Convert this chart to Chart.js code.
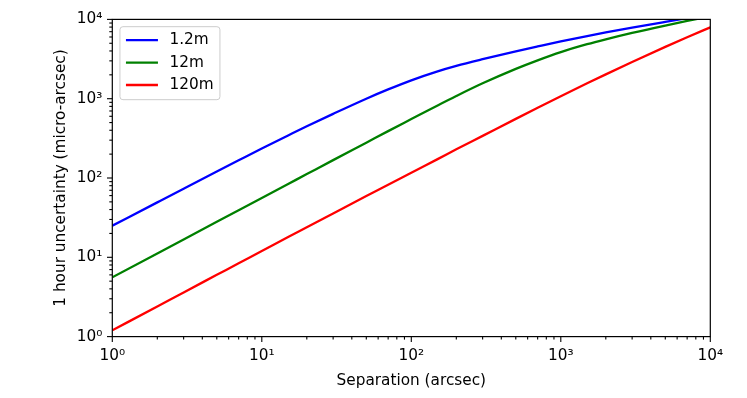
<!DOCTYPE html>
<html>
<head>
<meta charset="utf-8">
<script src="https://cdn.jsdelivr.net/npm/chart.js@4.4.0/dist/chart.umd.min.js"></script>
<style>
  html, body { margin: 0; padding: 0; background: #fff; }
</style>
</head>
<body>
<canvas id="chartSep" width="747" height="398"></canvas>
<script>
// Data
const separation = [1, 2, 3, 5, 7, 10, 15, 20, 30, 50, 70, 100, 150, 200, 300, 500, 700, 1000, 1500, 2000, 3000, 5000, 7000, 10000];
const unc1p2m = [25, 49.3, 73.3, 120.6, 167, 235.5, 344, 449, 644, 1000, 1309, 1706, 2213, 2594, 3148, 3954, 4560, 5284, 6166, 6839, 7870, 9311, 10375, 11590];
const unc12m = [5.6, 11.2, 16.8, 28, 39.2, 56, 84, 112, 168, 279, 390, 553, 822, 1081, 1563, 2377, 3048, 3873, 4864, 5610, 6761, 8375, 9550, 10890];
const unc120m = [1.2, 2.4, 3.61, 6.01, 8.41, 12.0, 18.0, 23.9, 35.7, 59.2, 82.2, 116.7, 173, 230, 340, 557, 767, 1074, 1563, 2028, 2904, 4508, 5957, 7925];
const seriesLabels = ['1.2m', '12m', '120m'];
const seriesColors = ['#0000ff', '#008000', '#ff0000'];
const decadeLabels = ['10\u2070', '10\u00b9', '10\u00b2', '10\u00b3', '10\u2074'];

const FONT = 'DejaVu Sans';
const FS = 15.3;

const isDecade = v => Math.abs(Math.log10(v) - Math.round(Math.log10(v))) < 1e-9;
const decadeLabel = v => isDecade(v) ? decadeLabels[Math.round(Math.log10(v))] : '';

// tick 1..9 per dekade, sampai 10^(jumlah label - 1)
const logTicks = [];
for (let d = 0; d < decadeLabels.length - 1; d++) {
  for (let m = 1; m <= 9; m++) logTicks.push(m * Math.pow(10, d));
}
logTicks.push(Math.pow(10, decadeLabels.length - 1));

const toPoints = ys => separation.map((s, i) => ({ x: s, y: ys[i] }));
const allSeries = [unc1p2m, unc12m, unc120m];

// bingkai + tick gaya matplotlib
const mplFrame = {
  id: 'mplFrame',
  afterDatasetsDraw(chart) {
    const { ctx, chartArea: a, scales } = chart;
    ctx.save();
    ctx.strokeStyle = '#000';
    ctx.lineWidth = 1.1;
    scales.x.ticks.forEach(t => {
      const px = scales.x.getPixelForValue(t.value);
      const len = isDecade(t.value) ? 5.3 : 3;
      ctx.beginPath(); ctx.moveTo(px, a.bottom); ctx.lineTo(px, a.bottom + len); ctx.stroke();
    });
    scales.y.ticks.forEach(t => {
      const py = scales.y.getPixelForValue(t.value);
      const len = isDecade(t.value) ? 5.3 : 3;
      ctx.beginPath(); ctx.moveTo(a.left, py); ctx.lineTo(a.left - len, py); ctx.stroke();
    });
    ctx.lineWidth = 1.2;
    ctx.strokeRect(a.left, a.top, a.right - a.left, a.bottom - a.top);

    // legenda di kiri atas
    const bx = a.left + 7.65, by = a.top + 7.3, bw = 100, bh = 73;
    ctx.beginPath();
    ctx.roundRect(bx, by, bw, bh, 3);
    ctx.fillStyle = 'rgba(255,255,255,0.8)';
    ctx.fill();
    ctx.strokeStyle = '#cccccc';
    ctx.lineWidth = 1;
    ctx.stroke();
    ctx.font = `${FS}px "${FONT}"`;
    ctx.textBaseline = 'middle';
    ctx.fillStyle = '#000';
    chart.data.datasets.forEach((ds, i) => {
      const y = by + 13.5 + i * 22.4;
      ctx.strokeStyle = ds.borderColor;
      ctx.lineWidth = 2.3;
      ctx.beginPath(); ctx.moveTo(bx + 6, y); ctx.lineTo(bx + 38, y); ctx.stroke();
      ctx.fillText(ds.label, bx + 49.5, y);
    });
    ctx.restore();
  }
};

new Chart(document.getElementById('chartSep'), {
  type: 'line',
  data: {
    datasets: allSeries.map((ys, i) => ({
      label: seriesLabels[i],
      data: toPoints(ys),
      borderColor: seriesColors[i],
      backgroundColor: seriesColors[i],
      borderWidth: 2.3,
      pointRadius: 0,
      cubicInterpolationMode: 'monotone',
      fill: false
    }))
  },
  options: {
    responsive: false,
    animation: false,
    devicePixelRatio: 1,
    layout: { padding: { left: 0, right: 36.7, top: 19.4, bottom: 0 } },
    plugins: {
      legend: { display: false },
      tooltip: { enabled: false }
    },
    scales: {
      x: {
        type: 'logarithmic',
        min: 1,
        max: 10000,
        afterBuildTicks: s => { s.ticks = logTicks.map(v => ({ value: v })); },
        afterFit: s => { s.height = 398 - 336.6; },
        grid: { display: true, drawOnChartArea: false, drawTicks: false },
        border: { display: false },
        ticks: {
          autoSkip: false, maxRotation: 0, padding: 10,
          color: '#000', font: { family: FONT, size: FS },
          callback: v => decadeLabel(v)
        },
        title: {
          display: true, text: 'Separation (arcsec)', color: '#000',
          font: { family: FONT, size: FS }, padding: { top: 0, bottom: 8 }
        }
      },
      y: {
        type: 'logarithmic',
        min: 1,
        max: 10000,
        afterBuildTicks: s => { s.ticks = logTicks.map(v => ({ value: v })); },
        afterFit: s => { s.width = 112.3; },
        grid: { display: true, drawOnChartArea: false, drawTicks: false },
        border: { display: false },
        ticks: {
          autoSkip: false, padding: 10,
          color: '#000', font: { family: FONT, size: FS },
          callback: v => decadeLabel(v)
        },
        title: {
          display: true, text: '1 hour uncertainty (micro-arcsec)', color: '#000',
          font: { family: FONT, size: FS }, padding: { top: 52, bottom: 0 }
        }
      }
    }
  },
  plugins: [mplFrame]
});
</script>
</body>
</html>
